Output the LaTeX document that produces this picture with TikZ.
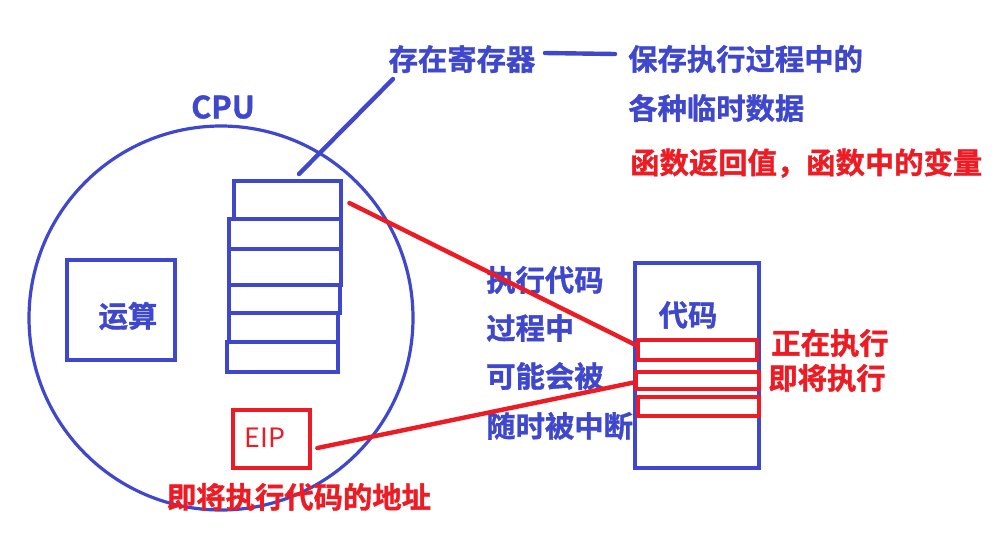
\documentclass[tikz,border=0pt]{standalone}
\usepackage{fontspec}
\newfontfamily\cjk{Noto Sans CJK SC}[BoldFont={Noto Sans CJK SC Bold}, BoldFeatures={FakeBold=1.2}]
\usetikzlibrary{calc}
\definecolor{pblue}{HTML}{3F48CC}
\definecolor{pred}{HTML}{ED1C24}
\tikzset{
  bluebox/.style={draw=pblue, line width=3.5pt, inner sep=0pt},
  redbox/.style={draw=pred, line width=3.5pt, inner sep=0pt},
  btext/.style={text=pblue, font=\cjk\bfseries\fontsize{22pt}{26pt}\selectfont, inner sep=0pt},
  rtext/.style={text=pred, font=\cjk\bfseries\fontsize{22pt}{26pt}\selectfont, inner sep=0pt},
  bline/.style={draw=pblue, line width=3.3pt, line cap=round},
  rline/.style={draw=pred, line width=3.3pt, line cap=round},
}
\begin{document}
\begin{tikzpicture}[x=0.75pt, y=-0.75pt]
\useasboundingbox (0,0) rectangle (1008,537);
% CPU circle
\draw[pblue, line width=2.4pt] (221,318) circle[radius=144pt];
\node[text=pblue, font=\cjk\bfseries\fontsize{23pt}{26pt}\selectfont, inner sep=0pt] (cpu) at (223,107) {CPU};
% ALU
\node[bluebox, minimum width=81pt, minimum height=75pt] (alu) at (121,310) {};
\node[btext] (alutxt) at (128,316) {运算};
% registers
\node[bluebox, minimum width=80.25pt, minimum height=28.5pt] (r1) at (287.5,200) {};
\node[bluebox, minimum width=84pt, minimum height=22.5pt] (r2) at (285,234) {};
\node[bluebox, minimum width=84pt, minimum height=27pt] (r3) at (285,267) {};
\node[bluebox, minimum width=83.25pt, minimum height=21pt] (r4) at (284.5,299) {};
\node[bluebox, minimum width=81.75pt, minimum height=21.75pt] (r5) at (283.5,327.5) {};
\node[bluebox, minimum width=83.25pt, minimum height=22.5pt] (r6) at (282.5,357) {};
% EIP
\node[redbox, minimum width=57.75pt, minimum height=43.5pt] (eip) at (271.5,439) {};
\node[text=pred, font=\cjk\fontsize{20pt}{24pt}\selectfont, inner sep=0pt] (eiptxt) at (265,438) {EIP};
\node[rtext] (eipdesc) at (299,497) {即将执行代码的地址};
% register description
\node[btext] (regtxt) at (462,59) {存在寄存器};
\node[btext, anchor=west] (save1) at (628,59) {保存执行过程中的};
\node[btext, anchor=west] (save2) at (628,108) {各种临时数据};
\node[rtext, anchor=west] (ret) at (630,163) {函数返回值，函数中的变量};
\coordinate (regtop) at (393,79);
\coordinate (regtip) at (299,174);
\draw[bline] (regtop) -- (regtip);
\coordinate (hl1) at (545,53);
\coordinate (hl2) at (615,54);
\draw[bline] (hl1) -- (hl2);
% interruption note
\node[btext, anchor=west] (n1) at (486,280) {执行代码};
\node[btext, anchor=west] (n2) at (486,328) {过程中};
\node[btext, anchor=west] (n3) at (486,376) {可能会被};
\node[btext, anchor=west] (n4) at (486,426) {随时被中断};
% code memory
\node[bluebox, minimum width=93pt, minimum height=153.75pt] (code) at (697,365.5) {};
\node[btext] (codetxt) at (688,315) {代码};
\node[redbox, minimum width=89.25pt, minimum height=15pt] (c1) at (697.5,350) {};
\node[redbox, minimum width=92.25pt, minimum height=12.75pt] (c2) at (697.5,380.5) {};
\node[redbox, minimum width=90.75pt, minimum height=14.25pt] (c3) at (698.5,406.5) {};
\node[rtext] (now) at (830,343) {正在执行};
\node[rtext] (next) at (827,378) {即将执行};
% red connectors
\draw[rline] ($(r1.east)+(6,3)$) -- ($(c1.west)+(0,-5)$);
\draw[rline] ($(eip.east)+(5,9)$) -- ($(c2.west)+(0,2)$);
\end{tikzpicture}
\end{document}
